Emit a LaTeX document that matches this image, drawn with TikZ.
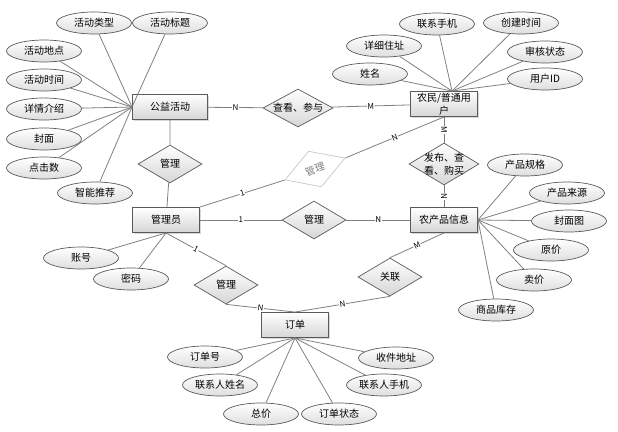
\documentclass[tikz,border=0pt]{standalone}
\usepackage{fontspec}
\usepackage{xcolor}
\usepackage{tikz}
\usetikzlibrary{shapes.geometric,shadows}
\newfontfamily\cjk{Noto Sans CJK SC}
\definecolor{frame}{HTML}{5A5A5A}
\definecolor{wire}{HTML}{808080}
\definecolor{shade}{HTML}{D6D6D6}
\definecolor{faded}{HTML}{C8C8C8}
\tikzset{
  ent/.style={rectangle, draw=frame, line width=0.9pt, top color=white, bottom color=shade,
    drop shadow={shadow xshift=1.2pt, shadow yshift=-1.2pt, fill=black!30},
    minimum width=67pt, minimum height=25pt, inner sep=0pt, align=center,
    font=\cjk\fontsize{10}{13}\selectfont},
  rel/.style={diamond, draw=frame, line width=0.7pt, top color=white, bottom color=shade,
    shape aspect=1.8, minimum width=64pt, minimum height=38pt, inner sep=0pt, align=center,
    font=\cjk\fontsize{10}{13}\selectfont},
  attr/.style={ellipse, draw=frame, line width=0.7pt, top color=white, bottom color=shade!80,
    minimum width=75pt, minimum height=22pt, inner sep=0pt,
    font=\cjk\fontsize{10}{12}\selectfont},
  link/.style={draw=wire, line width=0.8pt},
  card/.style={fill=white, inner sep=0.5pt, sloped, font=\cjk\fontsize{8}{9}\selectfont},
}
\begin{document}
\begin{tikzpicture}[x=1pt,y=-1pt]
  \useasboundingbox (0,0) rectangle (618,431);
  % entities
  \node[ent, minimum width=75pt] (act) at (170,107) {公益活动};
  \node[ent] (farmer) at (444,104) {农民/普通用\\户};
  \node[ent] (prod) at (444,220) {农产品信息};
  \node[ent] (adm) at (166,220) {管理员};
  \node[ent] (order) at (295,325) {订单};
  % relations
  \node[rel, minimum width=70pt] (view) at (298,108) {查看、参与};
  \node[rel, minimum width=70pt, minimum height=42pt, inner sep=-4pt] (pub) at (444,164) {发布、查\\看、购买};
  \node[rel] (mgact) at (170,164) {管理};
  \node[rel, draw=faded, text=gray, top color=white, bottom color=white, rotate=20] (mgfarm) at (315,169) {管理};
  \node[rel] (mgprod) at (314,220) {管理};
  \node[rel] (mgord) at (226,285) {管理};
  \node[rel] (assoc) at (390,277) {关联};
  % attributes
  \foreach \n/\p/\t in {a1/{94,23}/活动类型, a2/{170,23}/活动标题, a3/{44,51}/活动地点,
      a4/{44,80}/活动时间, a5/{44,109}/详情介绍, a6/{44,139}/封面, a7/{44,168}/点击数,
      a8/{95,193}/智能推荐,
      f1/{370,74}/姓名, f2/{384,46}/详细住址, f3/{437,24}/联系手机, f4/{521,23}/创建时间,
      f5/{545,52}/审核状态, f6/{545,79}/用户ID,
      p1/{525,165}/产品规格, p2/{567,193}/产品来源, p3/{569,221}/封面图, p4/{551,250}/原价,
      p5/{534,280}/卖价, p6/{496,310}/商品库存,
      m1/{81,258}/账号, m2/{131,279}/密码,
      o1/{205,357}/订单号, o2/{220,385}/联系人姓名, o3/{261,414}/总价, o4/{339,414}/订单状态,
      o5/{384,385}/联系人手机, o6/{396,358}/收件地址}
    \node[attr] (\n) at (\p) {\t};
  \coordinate (fhub) at ([xshift=8pt]farmer.north);
  \foreach \n in {a1,a2,a3,a4,a5,a6,a7,a8} \draw[link] (act.west) -- (\n);
  \foreach \n in {f1,f2,f3,f4,f5,f6} \draw[link] (fhub) -- (\n);
  \foreach \n in {p1,p2,p3,p4,p5,p6} \draw[link] (prod.east) -- (\n);
  \foreach \n in {m1,m2} \draw[link] (adm.south) -- (\n);
  \foreach \n in {o1,o2,o3,o4,o5,o6} \draw[link] (order.south) -- (\n);
  % connectors
  \draw[link] (act) -- node[card]{N} (view) -- node[card]{M} (farmer);
  \draw[link] (farmer.south) -- node[card]{M} (pub) -- node[card]{N} (prod);
  \draw[link] (act) -- (mgact) -- (adm);
  \draw[link] (adm.north east) -- node[card]{1} (mgfarm.west);
  \draw[link] (mgfarm.east) -- node[card]{N} (farmer.south);
  \draw[link] (adm) -- node[card]{1} (mgprod) -- node[card]{N} (prod);
  \draw[link] (adm.south) -- node[card]{1} (mgord.north);
  \draw[link] (mgord.south) -- node[card]{N} (order.north);
  \draw[link] (order.north) -- node[card]{N} (assoc.south);
  \draw[link] (assoc.north) -- node[card]{M} (prod.south);
\end{tikzpicture}
\end{document}
